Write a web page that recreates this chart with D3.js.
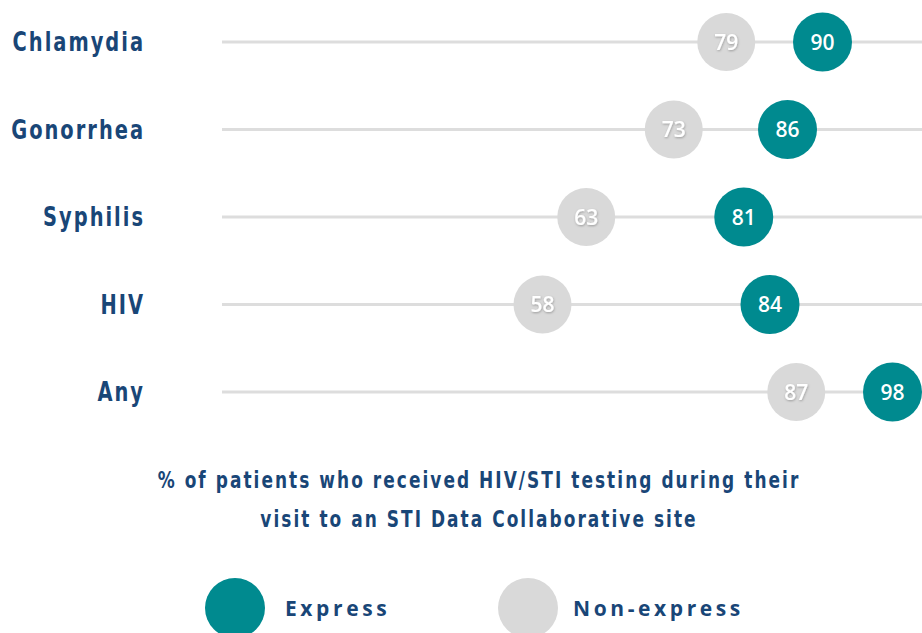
<!DOCTYPE html>
<html>
<head>
<meta charset="utf-8">
<script src="https://cdn.jsdelivr.net/npm/d3@7"></script>
<style>
  body { margin: 0; background: #ffffff; }
  .label { font-family: "DejaVu Sans Condensed", "Liberation Sans Narrow", sans-serif; font-stretch: condensed; font-weight: bold; fill: #194677; }
  .val { font-family: "Open Sans", sans-serif; font-weight: 600; fill: #ffffff; }
</style>
</head>
<body>
<script>
var categories = ['Chlamydia', 'Gonorrhea', 'Syphilis', 'HIV', 'Any'];
var express = [90, 86, 81, 84, 98];
var nonExpress = [79, 73, 63, 58, 87];
var seriesNames = ['Express', 'Non-express'];
var titleLines = ['% of patients who received HIV/STI testing during their',
                  'visit to an STI Data Collaborative site'];

var teal = '#008a8f',
    grey = '#d9d9d9',
    navy = '#194677';

var w = 922, h = 633;
var svg = d3.select('body')
    .append('svg')
    .attr('width', w)
    .attr('height', h);

var defs = svg.append('defs');
var f = defs.append('filter').attr('id', 'ts').attr('x', '-20%').attr('y', '-20%').attr('width', '140%').attr('height', '140%');
f.append('feDropShadow').attr('dx', 0.5).attr('dy', 1).attr('stdDeviation', 0.8).attr('flood-color', '#000').attr('flood-opacity', 0.3);

// scales
var x = d3.scaleLinear().domain([0, 100]).range([35, 910]);
var y = d3.scalePoint().domain(categories).range([42, 392]);

var rows = categories.map(function(c, i) {
    return { cat: c, ex: express[i], non: nonExpress[i] };
});

var row = svg.selectAll('g.row')
    .data(rows)
    .enter()
    .append('g')
    .attr('class', 'row')
    .attr('transform', function(d) { return 'translate(0,' + y(d.cat) + ')'; });

row.append('line')
    .attr('x1', 222)
    .attr('x2', w)
    .attr('stroke', '#dddddd')
    .attr('stroke-width', 3);

// category labels, squeezed horizontally to mimic a condensed face
row.append('text')
    .attr('class', 'label')
    .attr('transform', 'translate(145,9) scale(0.8,1)')
    .attr('text-anchor', 'end')
    .attr('font-size', 27)
    .attr('letter-spacing', 2.5)
    .text(function(d) { return d.cat; });

// non-express dots
row.append('circle')
    .attr('cx', function(d) { return x(d.non); })
    .attr('r', 29)
    .attr('fill', grey);
row.append('text')
    .attr('class', 'val')
    .attr('x', function(d) { return x(d.non); })
    .attr('y', 7.5)
    .attr('text-anchor', 'middle')
    .attr('font-size', 21)
    .attr('filter', 'url(#ts)')
    .text(function(d) { return d.non; });

// express dots
row.append('circle')
    .attr('cx', function(d) { return x(d.ex); })
    .attr('r', 29.5)
    .attr('fill', teal);
row.append('text')
    .attr('class', 'val')
    .attr('x', function(d) { return x(d.ex); })
    .attr('y', 7.5)
    .attr('text-anchor', 'middle')
    .attr('font-size', 21)
    .text(function(d) { return d.ex; });

// title under chart
svg.selectAll('text.title')
    .data(titleLines)
    .enter()
    .append('text')
    .attr('class', 'label title')
    .attr('transform', function(d, i) { return 'translate(479,' + (488 + i * 39) + ') scale(0.82,1)'; })
    .attr('text-anchor', 'middle')
    .attr('font-size', 23)
    .attr('letter-spacing', 2.5)
    .text(function(d) { return d; });

// legend
var legend = svg.selectAll('g.legend')
    .data(seriesNames)
    .enter()
    .append('g')
    .attr('class', 'legend')
    .attr('transform', function(d, i) { return 'translate(' + (235 + i * 293) + ',608)'; });
legend.append('circle')
    .attr('r', 30)
    .attr('fill', function(d, i) { return i === 0 ? teal : grey; });
legend.append('text')
    .attr('x', function(d, i) { return i === 0 ? 50 : 45; })
    .attr('y', 8)
    .attr('font-family', '"Open Sans", sans-serif')
    .attr('font-weight', 700)
    .attr('font-size', 21)
    .attr('letter-spacing', 3.6)
    .attr('fill', navy)
    .text(function(d) { return d; });
</script>
</body>
</html>
